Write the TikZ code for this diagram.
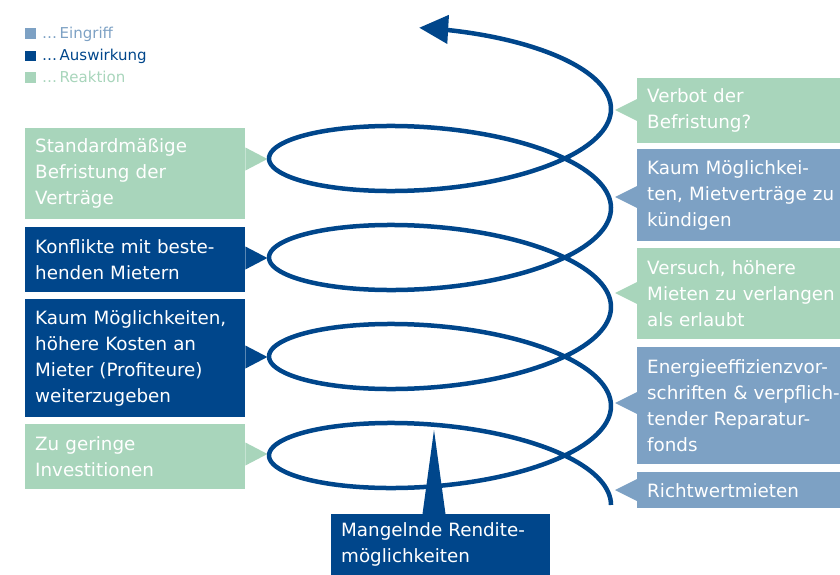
\documentclass[tikz,border=0pt]{standalone}
\usepackage{fontspec}
\setmainfont{DejaVu Sans}
\usetikzlibrary{arrows.meta}
\definecolor{dblue}{RGB}{0,70,139}
\definecolor{lblue}{RGB}{125,161,196}
\definecolor{lgreen}{RGB}{168,213,187}
\begin{document}
\begin{tikzpicture}[x=1pt,y=-1pt,
  box/.style={anchor=north west, inner xsep=10pt, inner ysep=0pt, align=left,
    text=white, font=\fontsize{18.3}{26}\selectfont},
  lbox/.style={box, minimum width=220pt, text width=200pt},
  rbox/.style={box, minimum width=203pt, text width=193pt},
  legsq/.style={minimum size=10.5pt, inner sep=0pt, anchor=north west},
  legtxt/.style={anchor=base west, inner sep=0pt, font=\fontsize{15}{17}\selectfont}]
\useasboundingbox (0,0) rectangle (840,575);
% legend
\node[legsq, fill=lblue] (s1) at (25,28) {};
\node[legsq, fill=dblue] (s2) at (25,50.5) {};
\node[legsq, fill=lgreen] (s3) at (25,72) {};
\node[legtxt, text=lblue] (t1) at (42,38.5) {…\,Eingriff};
\node[legtxt, text=dblue] (t2) at (42,61) {…\,Auswirkung};
\node[legtxt, text=lgreen] (t3) at (42,82.5) {…\,Reaktion};
% left boxes
\node[lbox, fill=lgreen, minimum height=91pt] (L1) at (25,128) {Standardmäßige\\Befristung der\\Verträge};
\node[lbox, fill=dblue, minimum height=65pt] (L2) at (25,227) {Konflikte mit beste-\\henden Mietern};
\node[lbox, fill=dblue, minimum height=118pt] (L3) at (25,299) {Kaum Möglichkeiten,\\höhere Kosten an\\Mieter (Profiteure)\\weiterzugeben};
\node[lbox, fill=lgreen, minimum height=65pt] (L4) at (25,424) {Zu geringe\\Investitionen};
% right boxes
\node[rbox, fill=lgreen, minimum height=65pt] (R1) at (637,78) {Verbot der\\Befristung?};
\node[rbox, fill=lblue, minimum height=92pt] (R2) at (637,149) {Kaum Möglichkei-\\ten, Mietverträge zu\\kündigen};
\node[rbox, fill=lgreen, minimum height=91pt] (R3) at (637,248) {Versuch, höhere\\Mieten zu verlangen\\als erlaubt};
\node[rbox, fill=lblue, minimum height=117pt] (R4) at (637,347) {Energieeffizienzvor-\\schriften \& verpflich-\\tender Reparatur-\\fonds};
\node[rbox, fill=lblue, minimum height=36pt] (R5) at (637,472) {Richtwertmieten};
% bottom box
\node[box, fill=dblue, minimum width=219pt, text width=199pt, minimum height=61pt] (B) at (331,514) {Mangelnde Rendite-\\möglichkeiten};
% pointers
\newcommand\ptrLeft[3]{\fill[#1] (#2.north east |- 0,#3) ++(0,-11.5) -- ++(22,11.5) -- ++(-22,11.5) -- cycle;}
\newcommand\ptrRight[3]{\fill[#1] (#2.north west |- 0,#3) ++(0,-11) -- ++(-22,11) -- ++(22,11) -- cycle;}
\ptrLeft{lgreen}{L1}{159}
\ptrLeft{dblue}{L2}{258}
\ptrLeft{dblue}{L3}{357}
\ptrLeft{lgreen}{L4}{454}
\ptrRight{lgreen}{R1}{110}
\ptrRight{lblue}{R2}{197}
\ptrRight{lblue}{R4}{403}
\ptrRight{lgreen}{R3}{293}
\ptrRight{lblue}{R5}{490}
\fill[dblue] (B.north -| 422.5,0) -- (434,430) -- (B.north -| 445.5,0) -- cycle;
% spiral
\draw[dblue, line width=4.5pt, -{Triangle[length=29pt,width=28pt]}]
  plot[domain=0:1537, samples=600, smooth] ({440+171*cos(\x)}, {505-(\x/360)*99-55*sin(\x)});
\end{tikzpicture}
\end{document}
